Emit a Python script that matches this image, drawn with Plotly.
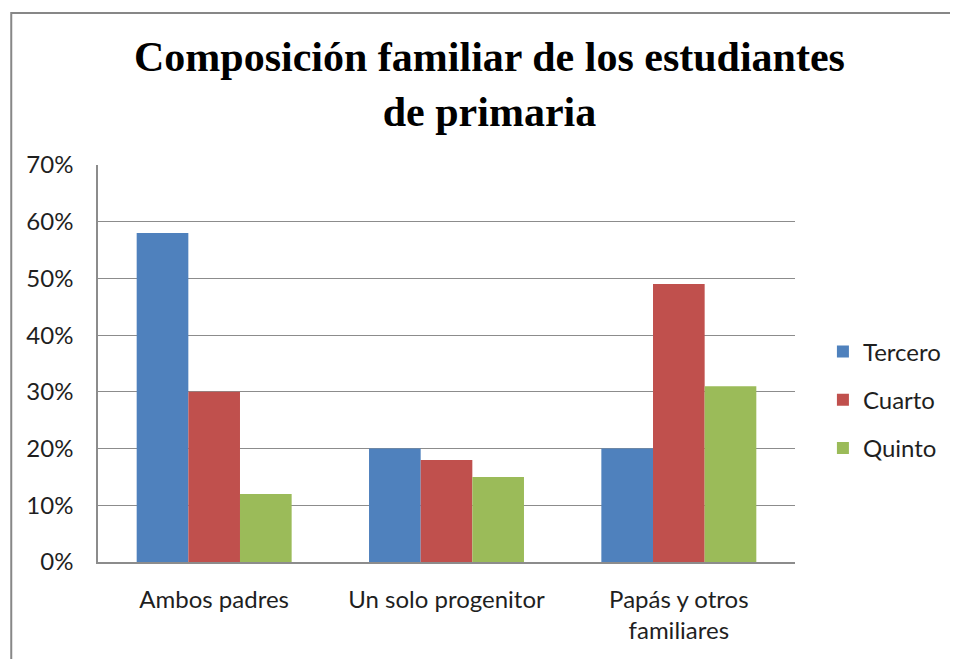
import plotly.graph_objects as go

categories = ["Ambos padres", "Un solo progenitor", "Papás y otros<br>familiares"]
series_names = ["Tercero", "Cuarto", "Quinto"]
tercero = [58, 20, 20]
cuarto = [30, 18, 49]
quinto = [12, 15, 31]
colors = ["#4F81BD", "#C0504D", "#9BBB59"]
y_ticks = [0, 10, 20, 30, 40, 50, 60, 70]
y_tick_labels = [f"{v}%" for v in y_ticks]

OFF = 8  # default body margin of the page
W, H = 958 - OFF, 659 - OFF
L, T = 98 - OFF, 165 - OFF
R = W - (797 - OFF)
B = H - (562 - OFF)
pw, ph = W - L - R, H - T - B

def px_x(px):
    return (px - OFF - L) / pw

def px_y(py):
    return (H - B - (py - OFF)) / ph

fig = go.Figure()
for name, vals, col in zip(series_names, [tercero, cuarto, quinto], colors):
    fig.add_trace(go.Bar(
        x=categories, y=vals, name=name, legendgroup=name,
        marker=dict(color=col, line=dict(width=0)),
        hoverinfo="x+y+name",
    ))

font_body = "Lato, 'Open Sans', sans-serif"
txt_col = "#1f1f1f"

fig.update_layout(
    width=W, height=H,
    margin=dict(l=L, r=R, t=T, b=B, pad=0),
    paper_bgcolor="white", plot_bgcolor="white",
    barmode="group", bargap=0.333, bargroupgap=0,
    font=dict(family=font_body, size=24, color=txt_col),
    showlegend=True,
    legend=dict(
        x=px_x(825), y=px_y(400), xanchor="left", yanchor="middle",
        font=dict(family=font_body, size=24, color=txt_col),
        traceorder="grouped", tracegroupgap=14,
        itemwidth=30, bgcolor="rgba(0,0,0,0)",
    ),
    xaxis=dict(
        showline=True, linecolor="#8c8c8c", linewidth=1.5,
        ticks="", showgrid=False, tickfont=dict(size=24),
        ticklabelstandoff=15, fixedrange=True,
    ),
    yaxis=dict(
        range=[0, 70], tickvals=y_ticks, ticktext=y_tick_labels,
        showline=True, linecolor="#8c8c8c", linewidth=1.5,
        showgrid=True, gridcolor="#8c8c8c", gridwidth=1.2,
        ticks="", tickfont=dict(size=24),
        ticklabelstandoff=18,
        zeroline=False, fixedrange=True,
    ),
)

fig.add_annotation(
    text="<b>Composición familiar de los estudiantes<br>de primaria</b>",
    xref="paper", yref="paper", x=px_x(491), y=px_y(85),
    xanchor="center", yanchor="middle", showarrow=False,
    font=dict(family="'Liberation Serif', 'Times New Roman', serif", size=42, color="black"),
)

# outer chart border
fig.add_shape(
    type="rect", xref="paper", yref="paper",
    x0=px_x(11), x1=px_x(990), y0=px_y(700), y1=px_y(13),
    line=dict(color="#878787", width=2), fillcolor="rgba(0,0,0,0)", layer="below",
)

fig.write_html("out.html")
